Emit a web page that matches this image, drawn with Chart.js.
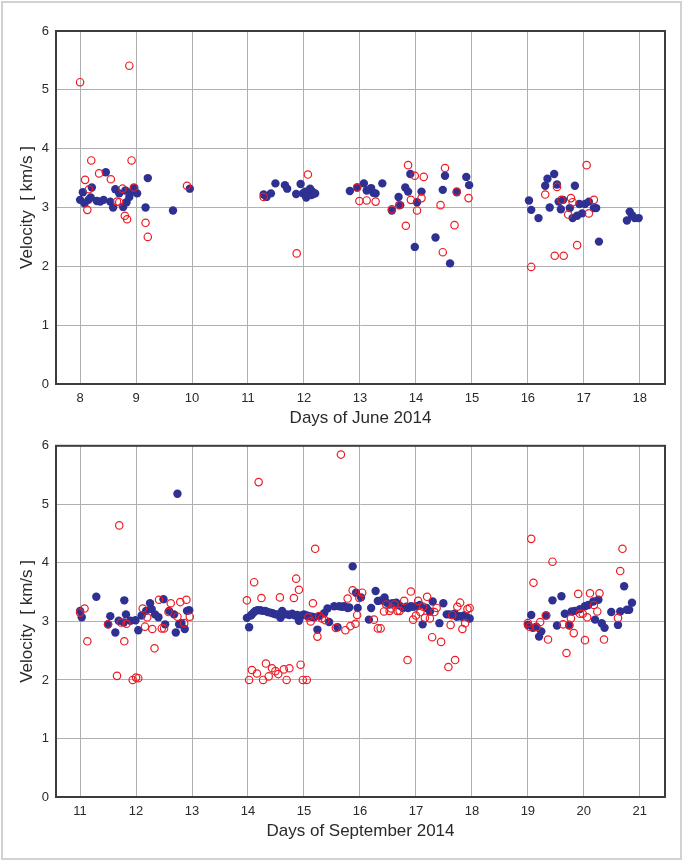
<!DOCTYPE html>
<html>
<head>
<meta charset="utf-8">
<script src="https://cdn.jsdelivr.net/npm/chart.js@4.4.0/dist/chart.umd.min.js"></script>
<style>
  html, body { margin: 0; padding: 0; background: #fff; }
  #page { position: relative; width: 685px; height: 862px; overflow: hidden; }
  #frame { position: absolute; left: 1px; top: 1px; width: 681px; height: 859px; border: 2px solid #d2d2d2; box-sizing: border-box; }
  .box { position: absolute; left: 0; width: 685px; height: 431px; }
</style>
</head>
<body>
<div id="page">
  <div id="frame"></div>
  <div class="box" style="top:0"><canvas id="juneChart"></canvas></div>
  <div class="box" style="top:431px"><canvas id="sepChart"></canvas></div>
</div>
<script>
// tick labels
const juneTicks = [8, 9, 10, 11, 12, 13, 14, 15, 16, 17, 18];
const sepTicks = [11, 12, 13, 14, 15, 16, 17, 18, 19, 20, 21];
const velocityTicks = [0, 1, 2, 3, 4, 5, 6];

// June 2014 : [day, velocity]
const juneBlue = [
  [8.00, 3.13], [8.05, 3.26], [8.08, 3.07], [8.15, 3.13], [8.19, 3.17], [8.21, 3.34],
  [8.30, 3.11], [8.36, 3.10], [8.42, 3.13], [8.46, 3.60], [8.54, 3.10], [8.59, 3.00],
  [8.63, 3.31], [8.70, 3.24], [8.77, 3.01], [8.81, 3.29], [8.83, 3.09], [8.88, 3.18],
  [8.93, 3.27], [8.97, 3.33], [9.02, 3.24], [9.17, 3.00], [9.21, 3.50], [9.66, 2.95],
  [9.96, 3.32],
  [11.28, 3.22], [11.33, 3.18], [11.41, 3.24], [11.49, 3.41], [11.66, 3.38], [11.70, 3.32],
  [11.86, 3.23], [11.94, 3.40], [11.98, 3.24], [12.02, 3.27], [12.04, 3.17], [12.07, 3.25],
  [12.11, 3.32], [12.13, 3.21], [12.15, 3.27], [12.17, 3.23], [12.20, 3.24],
  [12.82, 3.28], [12.95, 3.34], [13.07, 3.41], [13.12, 3.29], [13.20, 3.33], [13.24, 3.25],
  [13.28, 3.24], [13.40, 3.41], [13.57, 2.95], [13.69, 3.18], [13.72, 3.04], [13.81, 3.34],
  [13.86, 3.27], [13.90, 3.57], [13.98, 2.33], [14.02, 3.09], [14.10, 3.27], [14.35, 2.49],
  [14.48, 3.30], [14.52, 3.54], [14.61, 2.05], [14.73, 3.26], [14.90, 3.52], [14.95, 3.38],
  [16.02, 3.12], [16.06, 2.96], [16.19, 2.82], [16.31, 3.37], [16.35, 3.49], [16.39, 3.00],
  [16.47, 3.57], [16.52, 3.39], [16.55, 3.10], [16.59, 2.97], [16.63, 3.13], [16.75, 2.99],
  [16.80, 2.82], [16.84, 3.37], [16.88, 2.86], [16.92, 3.06], [16.97, 2.90], [17.02, 3.06],
  [17.09, 3.10], [17.18, 2.99], [17.22, 2.99], [17.27, 2.42], [17.77, 2.78], [17.82, 2.93],
  [17.86, 2.87], [17.91, 2.82], [17.98, 2.82]
];
const juneRed = [
  [8.00, 5.13], [8.88, 5.41], [8.09, 3.47], [8.20, 3.80], [8.34, 3.58], [8.55, 3.48],
  [8.16, 3.31], [8.13, 2.96], [8.76, 3.32], [8.66, 3.10], [8.70, 3.09], [8.80, 2.86],
  [8.84, 2.80], [8.92, 3.80], [8.96, 3.34], [9.17, 2.74], [9.21, 2.50], [9.91, 3.37],
  [11.28, 3.18], [12.07, 3.56], [11.87, 2.22],
  [12.95, 3.34], [12.99, 3.11], [13.12, 3.12], [13.28, 3.10], [13.57, 2.97], [13.70, 3.04],
  [13.82, 2.69], [13.86, 3.72], [13.91, 3.13], [13.98, 3.54], [14.02, 2.95], [14.10, 3.16],
  [14.14, 3.52], [14.44, 3.04], [14.48, 2.24], [14.52, 3.67], [14.69, 2.70], [14.73, 3.27],
  [14.94, 3.16],
  [16.06, 1.99], [16.31, 3.22], [16.52, 3.35], [16.48, 2.18], [16.64, 2.18], [16.60, 3.13],
  [16.72, 2.88], [16.77, 3.16], [16.80, 3.09], [16.88, 2.36], [17.05, 3.72], [17.09, 2.90],
  [17.18, 3.13]
];

// September 2014 : [day, velocity]
const sepBlue = [
  [11.00, 3.18], [11.03, 3.07], [11.29, 3.42], [11.50, 2.95], [11.54, 3.09], [11.63, 2.81],
  [11.69, 3.01], [11.78, 2.98], [11.79, 3.36], [11.82, 3.12], [11.90, 3.01], [11.99, 3.02],
  [12.04, 2.85], [12.10, 3.10], [12.18, 3.18], [12.25, 3.31], [12.28, 3.21], [12.34, 3.12],
  [12.40, 3.07], [12.49, 3.38], [12.52, 2.95], [12.59, 3.18], [12.68, 3.12], [12.71, 2.81],
  [12.74, 5.18], [12.77, 2.95], [12.81, 2.97], [12.87, 2.87], [12.91, 3.18], [12.95, 3.19],
  [13.98, 3.06], [14.02, 2.90], [14.05, 3.10], [14.07, 3.12], [14.10, 3.15], [14.13, 3.18],
  [14.17, 3.19], [14.22, 3.19], [14.26, 3.18], [14.31, 3.18], [14.35, 3.16], [14.40, 3.15],
  [14.44, 3.14], [14.49, 3.12], [14.53, 3.12], [14.58, 3.06], [14.61, 3.18], [14.65, 3.12],
  [14.70, 3.12], [14.74, 3.11], [14.79, 3.13], [14.84, 3.10], [14.88, 3.11], [14.91, 3.01],
  [14.96, 3.10], [15.00, 3.12], [15.05, 3.10], [15.09, 3.09], [15.14, 3.08], [15.18, 3.07],
  [15.24, 2.86], [15.27, 3.09], [15.36, 3.14], [15.42, 3.22], [15.45, 2.99], [15.54, 3.26],
  [15.60, 2.90], [15.63, 3.26], [15.68, 3.25], [15.72, 3.26], [15.78, 3.23], [15.81, 3.24],
  [15.87, 3.94], [15.93, 3.49], [15.96, 3.23], [16.02, 3.41], [16.16, 3.03], [16.20, 3.23],
  [16.28, 3.52], [16.32, 3.35], [16.38, 3.36], [16.44, 3.41], [16.48, 3.32], [16.53, 3.29],
  [16.58, 3.31], [16.65, 3.32], [16.71, 3.27], [16.77, 3.23], [16.83, 3.25], [16.86, 3.23],
  [16.91, 3.26], [16.95, 3.25], [17.02, 3.26], [17.07, 3.28], [17.12, 2.95], [17.19, 3.23],
  [17.25, 3.17], [17.30, 3.34], [17.42, 2.97], [17.49, 3.31], [17.55, 3.12], [17.60, 3.12],
  [17.64, 3.11], [17.69, 3.13], [17.73, 3.08], [17.78, 3.09], [17.82, 3.08], [17.86, 3.10],
  [17.90, 3.08], [17.96, 3.05],
  [19.00, 2.94], [19.06, 3.11], [19.09, 2.89], [19.15, 2.91], [19.20, 2.74], [19.24, 2.83],
  [19.33, 3.10], [19.44, 3.36], [19.52, 2.93], [19.60, 3.43], [19.66, 3.13], [19.74, 2.93],
  [19.78, 3.17], [19.84, 3.18], [19.93, 3.21], [20.02, 3.26], [20.08, 3.28], [20.17, 3.34],
  [20.20, 3.03], [20.26, 3.37], [20.32, 2.97], [20.37, 2.89], [20.49, 3.16], [20.61, 2.94],
  [20.65, 3.17], [20.72, 3.60], [20.77, 3.20], [20.81, 3.20], [20.86, 3.32]
];
const sepRed = [
  [11.00, 3.15], [11.08, 3.22], [11.13, 2.66], [11.50, 2.95], [11.66, 2.07], [11.70, 4.64],
  [11.73, 2.98], [11.79, 2.66], [11.83, 2.96], [11.94, 2.00], [12.00, 2.04], [12.04, 2.03],
  [12.12, 3.22], [12.16, 2.91], [12.20, 3.07], [12.29, 2.87], [12.33, 2.54], [12.41, 3.37],
  [12.46, 2.88], [12.50, 2.88], [12.58, 3.16], [12.62, 3.31], [12.74, 3.08], [12.79, 3.33],
  [12.86, 2.97], [12.90, 3.37], [12.96, 3.08],
  [13.98, 3.36], [14.02, 2.00], [14.07, 2.17], [14.11, 3.67], [14.16, 2.11], [14.19, 5.38],
  [14.24, 3.40], [14.27, 2.00], [14.32, 2.28], [14.37, 2.06], [14.43, 2.20], [14.49, 2.15],
  [14.54, 2.10], [14.57, 3.41], [14.64, 2.18], [14.69, 2.00], [14.74, 2.20], [14.82, 3.40],
  [14.86, 3.73], [14.91, 3.54], [14.94, 2.26], [14.98, 2.00], [15.05, 2.00], [15.08, 3.07],
  [15.12, 3.00], [15.16, 3.31], [15.20, 4.24], [15.24, 2.74], [15.27, 3.09], [15.32, 3.05],
  [15.38, 3.02], [15.57, 2.89], [15.66, 5.85], [15.74, 2.85], [15.78, 3.39], [15.83, 2.92],
  [15.87, 3.53], [15.92, 2.96], [15.95, 3.11], [15.99, 3.40], [16.04, 3.49], [16.25, 3.03],
  [16.32, 2.88], [16.37, 2.88], [16.43, 3.17], [16.47, 3.29], [16.53, 3.18], [16.56, 3.22],
  [16.62, 3.29], [16.67, 3.18], [16.71, 3.18], [16.79, 3.35], [16.85, 2.34], [16.91, 3.51],
  [16.95, 3.03], [17.00, 3.10], [17.04, 3.35], [17.08, 3.16], [17.13, 3.25], [17.16, 3.06],
  [17.20, 3.42], [17.25, 3.05], [17.29, 2.73], [17.33, 3.16], [17.37, 3.23], [17.45, 2.65],
  [17.58, 2.22], [17.62, 2.94], [17.65, 3.11], [17.70, 2.34], [17.74, 3.25], [17.79, 3.32],
  [17.83, 2.87], [17.88, 2.97], [17.92, 3.21], [17.96, 3.23],
  [19.00, 2.97], [19.03, 2.91], [19.06, 4.41], [19.10, 3.66], [19.15, 2.90], [19.22, 2.99],
  [19.32, 3.10], [19.36, 2.69], [19.44, 4.02], [19.63, 2.95], [19.69, 2.46], [19.74, 2.94],
  [19.77, 3.05], [19.82, 2.80], [19.90, 3.47], [19.93, 3.13], [19.98, 3.13], [20.02, 2.68],
  [20.06, 3.07], [20.11, 3.48], [20.18, 3.28], [20.24, 3.17], [20.28, 3.48], [20.36, 2.69],
  [20.61, 3.06], [20.65, 3.86], [20.69, 4.24]
];

const FONT = "'Liberation Sans', Arial, sans-serif";
const BLUE = '#2e3192';
const RED = '#ed1c24';

// thick frame round the plot area
const framePlugin = {
  id: 'frame',
  afterDatasetsDraw(chart) {
    const a = chart.chartArea;
    const c = chart.ctx;
    c.save();
    c.strokeStyle = '#3c3c3c';
    c.lineWidth = 2;
    c.strokeRect(a.left, a.top, a.right - a.left, a.bottom - a.top);
    c.restore();
  }
};

function makeChart(id, blue, red, ticks, xMin, xMax, title, padTop, padBottom) {
  const toPts = arr => arr.map(p => ({ x: p[0], y: p[1] }));
  new Chart(document.getElementById(id), {
    type: 'scatter',
    data: {
      datasets: [{
        label: 'open',
        data: toPts(red),
        pointRadius: 3.7,
        pointBackgroundColor: 'rgba(0,0,0,0)',
        pointBorderColor: RED,
        pointBorderWidth: 1.2
      }, {
        label: 'filled',
        data: toPts(blue),
        pointRadius: 4.2,
        pointBackgroundColor: BLUE,
        pointBorderWidth: 0
      }]
    },
    options: {
      responsive: false,
      animation: false,
      events: [],
      layout: { padding: { left: 0, right: 20, top: padTop, bottom: padBottom } },
      plugins: { legend: { display: false }, tooltip: { enabled: false } },
      scales: {
        x: {
          type: 'linear',
          min: xMin,
          max: xMax,
          afterBuildTicks: s => { s.ticks = ticks.map(v => ({ value: v })); },
          afterFit: s => { s.height = 47; },
          grid: { color: '#b0b0b0', lineWidth: 1, drawTicks: false },
          border: { display: false },
          ticks: { padding: 7, color: '#2a2a2a', font: { family: FONT, size: 13 } },
          title: { display: true, text: title, color: '#2a2a2a', padding: { top: 0, bottom: 2 },
                   font: { family: FONT, size: 17 } }
        },
        y: {
          min: 0,
          max: 6,
          afterBuildTicks: s => { s.ticks = velocityTicks.map(v => ({ value: v })); },
          afterFit: s => { s.width = 56; },
          grid: { color: '#b0b0b0', lineWidth: 1, drawTicks: false },
          border: { display: false },
          ticks: { padding: 7, color: '#2a2a2a', font: { family: FONT, size: 13 } },
          title: { display: true, text: 'Velocity  [ km/s ]', color: '#2a2a2a',
                   padding: { top: 17, bottom: 0 }, font: { family: FONT, size: 17 } }
        }
      }
    },
    plugins: [framePlugin]
  });
}

document.getElementById('juneChart').width = 685;
document.getElementById('juneChart').height = 431;
document.getElementById('sepChart').width = 685;
document.getElementById('sepChart').height = 431;

makeChart('juneChart', juneBlue, juneRed, juneTicks, 7.57, 18.45, 'Days of June 2014', 31, 0);
makeChart('sepChart', sepBlue, sepRed, sepTicks, 10.57, 21.45, 'Days of September 2014', 13, 18);
</script>
</body>
</html>
